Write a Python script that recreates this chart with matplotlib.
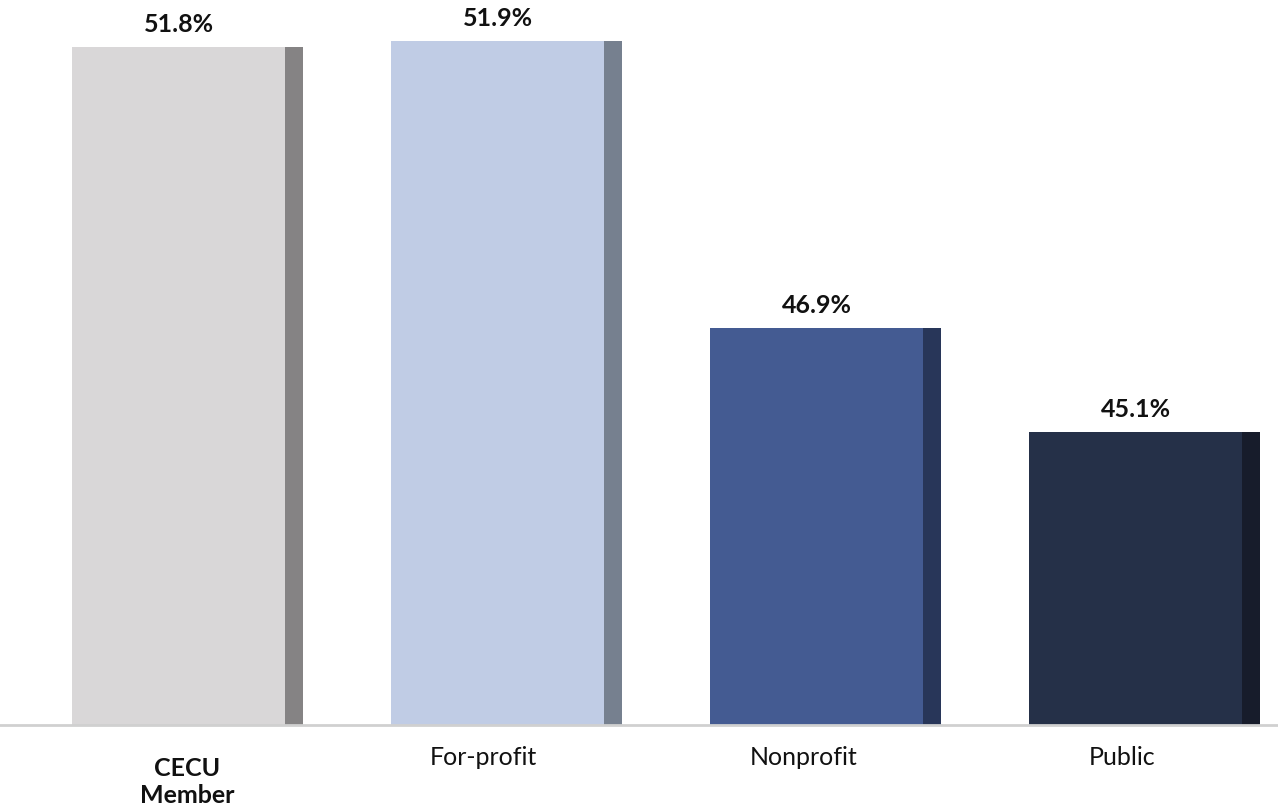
import matplotlib
matplotlib.use("Agg")
import matplotlib.pyplot as plt
import numpy as np

categories = ["CECU\nMember", "For-profit", "Nonprofit", "Public"]
values = [51.8, 51.9, 46.9, 45.1]
value_labels = ["51.8%", "51.9%", "46.9%", "45.1%"]
main_colors = ["#D9D7D8", "#C0CCE5", "#445B92", "#253048"]
side_colors = ["#858384", "#76808F", "#283659", "#171C2B"]
bold_label = [True, False, False, False]

plt.rcParams['font.family'] = ['Lato', 'DejaVu Sans']

fig = plt.figure(figsize=(12.78, 8.05), dpi=100)
ax = fig.add_axes([0, 1 - 725 / 805, 1, 725 / 805])

ymin = 40.0
px_per_unit = 57.5
ymax = ymin + 725 / px_per_unit

spacing = 319.0
x_pos = np.arange(len(categories))
main_w = 213 / spacing
side_w = 18 / spacing
total_w = main_w + side_w
left = x_pos - total_w / 2

ax.bar(left, [v - ymin for v in values], width=main_w, bottom=ymin, align='edge',
       color=main_colors, edgecolor='none')
ax.bar(left + main_w, [v - ymin for v in values], width=side_w, bottom=ymin, align='edge',
       color=side_colors, edgecolor='none')

for xl, v, lab in zip(left, values, value_labels):
    ax.annotate(lab, (xl + main_w / 2, v), xytext=(0, 15), textcoords='offset pixels',
                ha='center', va='baseline', fontsize=18, fontweight='bold', color='#111111')

ax.set_xlim(-187.5 / spacing, (1278 - 187.5) / spacing)
ax.set_ylim(ymin, ymax)
for s in ['top', 'right', 'left']:
    ax.spines[s].set_visible(False)
ax.spines['bottom'].set_color('#D0D0D0')
ax.spines['bottom'].set_linewidth(2)
ax.set_yticks([])
ax.set_xticks([])

label_offsets = [(0, -78), (-23, -40), (-22, -40), (-22, -40)]
for x, cat, b, off in zip(x_pos, categories, bold_label, label_offsets):
    ax.annotate(cat, (x, ymin), xytext=off, textcoords='offset pixels',
                ha='center', va='baseline', fontsize=18,
                fontweight='bold' if b else 'normal', color='#111111',
                linespacing=1.2, annotation_clip=False)

fig.savefig("out.png", dpi=100)
